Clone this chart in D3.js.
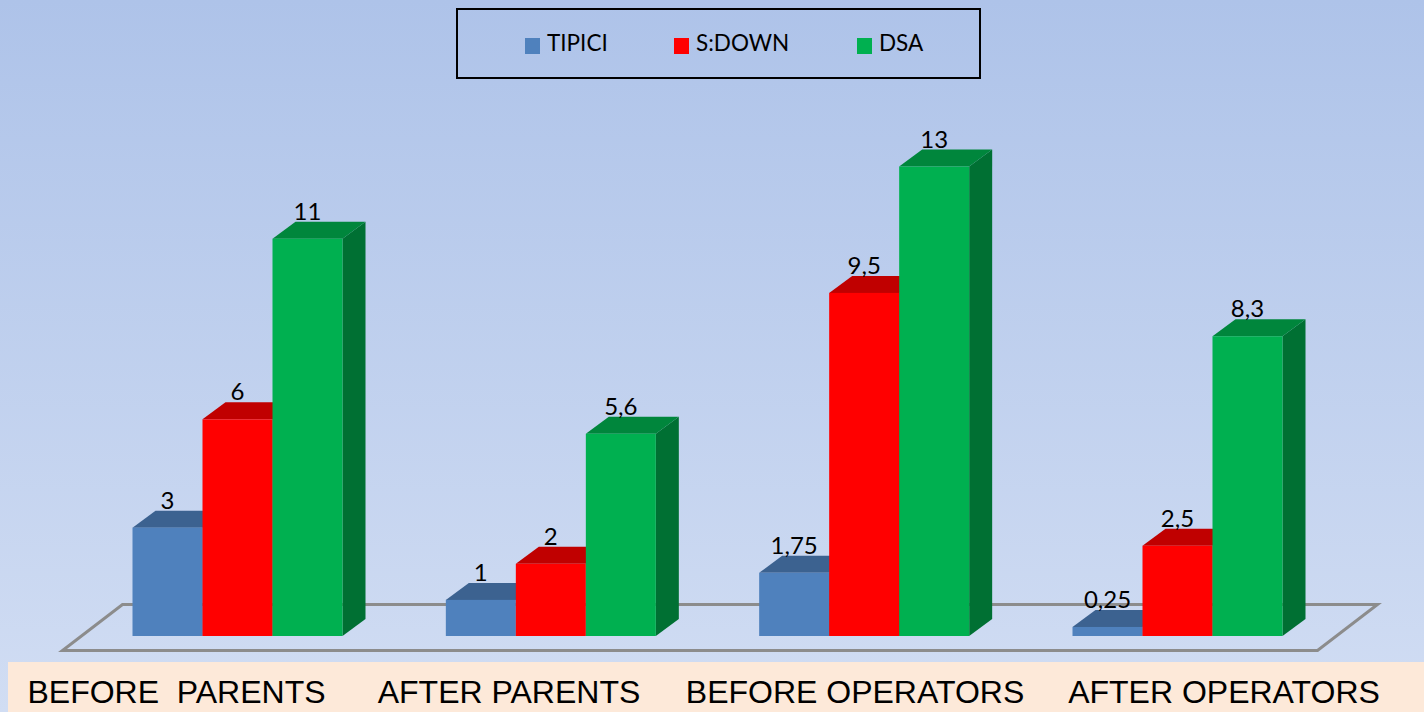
<!DOCTYPE html>
<html><head><meta charset="utf-8">
<script src="https://cdn.jsdelivr.net/npm/d3@7/dist/d3.min.js"></script>
<style>html,body{margin:0;padding:0;overflow:hidden;background:#c0d0ee}svg{display:block}</style>
</head><body><svg id="c" width="1424" height="712"></svg>
<script>
const categories = ["BEFORE  PARENTS","AFTER PARENTS","BEFORE OPERATORS","AFTER OPERATORS"];
const seriesNames = ["TIPICI","S:DOWN","DSA"];
const tipici = [3,1,1.75,0.25];
const sdown = [6,2,9.5,2.5];
const dsa = [11,5.6,13,8.3];
const valueLabels = [["3","1","1,75","0,25"],["6","2","9,5","2,5"],["11","5,6","13","8,3"]];
const seriesValues = [tipici,sdown,dsa];
const frontColors = ["#4f81bd","#ff0000","#00b050"];
const topColors = ["#3c6290","#c00000","#00863c"];
const sideColors = ["#335a85","#a80000","#007033"];

const W=1424,H=712, depthX=23, depthY=17;
const svg=d3.select("#c");
const defs=svg.append("defs");
const g=defs.append("linearGradient").attr("id","bg").attr("x1",0).attr("y1",0).attr("x2",0).attr("y2",1);
g.append("stop").attr("offset","0%").attr("stop-color","#aec3e9");
g.append("stop").attr("offset","100%").attr("stop-color","#d1ddf3");
svg.append("rect").attr("width",W).attr("height",H).attr("fill","url(#bg)");

const x0=d3.scaleBand().domain(categories).range([132.5,1282.5]).paddingInner(1-210/313.33).paddingOuter(0);
const x1=d3.scaleBand().domain(seriesNames).range([0,x0.bandwidth()]);
const y=d3.scaleLinear().domain([0,13]).range([636,166.5]);

// floor
svg.append("path")
  .attr("d",`M${x0.range()[0]-70},650.5 L${x0.range()[1]+35},650.5 L${x0.range()[1]+95},604.5 L${x0.range()[0]-10},604.5 Z`)
  .attr("fill","none").attr("stroke","#8c8c8c").attr("stroke-width",3);

categories.forEach((c,ci)=>{
  const grp=svg.append("g").attr("transform",`translate(${x0(c)},0)`);
  seriesNames.forEach((s,si)=>{
    const v=seriesValues[si][ci], bx=x1(s), w=x1.bandwidth(), ty=y(v), by=y(0);
    // side
    grp.append("path").attr("d",`M${bx+w},${ty} L${bx+w+depthX},${ty-depthY} L${bx+w+depthX},${by-depthY} L${bx+w},${by} Z`).attr("fill",sideColors[si]);
    // top
    grp.append("path").attr("d",`M${bx},${ty} L${bx+depthX},${ty-depthY} L${bx+w+depthX},${ty-depthY} L${bx+w},${ty} Z`).attr("fill",topColors[si]);
    // front
    grp.append("rect").attr("x",bx).attr("y",ty).attr("width",w).attr("height",by-ty).attr("fill",frontColors[si]);
  });
  seriesNames.forEach((s,si)=>{
    const v=seriesValues[si][ci];
    grp.append("text").attr("x",x1(s)+x1.bandwidth()/2).attr("y",y(v)-19)
      .attr("text-anchor","middle").attr("font-family","Lato").attr("font-size",24).attr("fill","#000")
      .text(valueLabels[si][ci]);
  });
});

// category strip
svg.append("rect").attr("x",8).attr("y",662).attr("width",W-8).attr("height",50).attr("fill","#fde9d9");
const labelCenters=[176.5,509,855,1224];
categories.forEach((c,i)=>{
  svg.append("text").attr("x",labelCenters[i]).attr("y",702.5).attr("text-anchor","middle")
    .attr("font-family","Liberation Sans").attr("font-size",32).attr("fill","#000")
    .style("white-space","pre").text(c);
});

// legend
svg.append("rect").attr("x",457).attr("y",9).attr("width",523).attr("height",69)
  .attr("fill","none").attr("stroke","#000").attr("stroke-width",2);
const swatchX=[525,674,857];
seriesNames.forEach((s,i)=>{
  svg.append("rect").attr("x",swatchX[i]).attr("y",38).attr("width",15).attr("height",16).attr("fill",frontColors[i]);
  svg.append("text").attr("x",swatchX[i]+22).attr("y",51).attr("font-family","Lato").attr("font-size",22.5).attr("fill","#000").text(s);
});
</script></body></html>
